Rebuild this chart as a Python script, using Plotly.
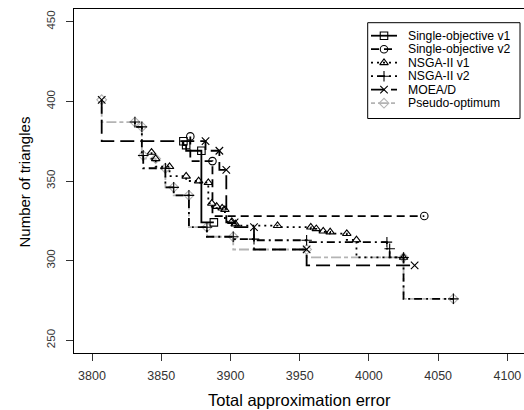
import plotly.graph_objects as go

# ---------------- data ----------------
so1_x = [3866, 3868, 3879, 3888]
so1_y = [375, 372.5, 369, 324]

so2_x = [3871, 3887, 4040]
so2_y = [378, 362.5, 328]

nsga1_x = [3843, 3846, 3856, 3868, 3877, 3884, 3886.5, 3890, 3894, 3896, 3901, 3903.5,
           3934, 3958, 3962, 3967, 3972, 3984, 3991, 4025]
nsga1_y = [368, 364, 359, 353, 350, 349, 336, 334, 333, 332, 324.5, 323,
           322, 321, 320, 318.5, 318, 317, 313, 302]

nsga2_x = [3831, 3836, 3837, 3853, 3859, 3870, 3883, 3902, 3917, 3955, 4013, 4015, 4025, 4061]
nsga2_y = [387, 384, 366, 358, 346, 341, 321, 315, 313.5, 312.8, 311.6, 307.5, 302, 276]

moead_x = [3807, 3882, 3892, 3897, 3903, 3917, 3955, 4033]
moead_y = [401, 375, 369, 357, 324, 321, 307, 297]

pseudo_x = [3807, 3831, 3836, 3837, 3846, 3853, 3859, 3870, 3883, 3902, 3955, 4025, 4061]
pseudo_y = [401, 387, 384, 366, 364, 358, 346, 341, 321, 315, 307, 302, 276]

series_names = ["Single-objective v1", "Single-objective v2", "NSGA-II v1",
                "NSGA-II v2", "MOEA/D", "Pseudo-optimum"]

x_ticks = [3800, 3850, 3900, 3950, 4000, 4050, 4100]
y_ticks = [250, 300, 350, 400, 450]

# ---------------- styles ----------------
FONT = "Liberation Sans, Arial, sans-serif"
GRAY = "#b4b4b4"
styles = [
    dict(color="black", dash="solid", symbol="square-open"),
    dict(color="black", dash="8px,5px", symbol="circle-open"),
    dict(color="black", dash="2px,4px", symbol="triangle-up-open"),
    dict(color="black", dash="2px,4px,8px,4px", symbol="cross-thin-open"),
    dict(color="black", dash="14px,6px", symbol="x-thin-open"),
    dict(color=GRAY, dash="4px,3px,10px,3px", symbol="diamond-open"),
]
data = [(so1_x, so1_y), (so2_x, so2_y), (nsga1_x, nsga1_y),
        (nsga2_x, nsga2_y), (moead_x, moead_y), (pseudo_x, pseudo_y)]

fig = go.Figure()
draw_order = [5, 0, 1, 2, 3, 4]
for i in draw_order:
    xs, ys = data[i]
    st = styles[i]
    fig.add_trace(go.Scatter(
        x=xs, y=ys, mode="lines+markers", name=series_names[i],
        line=dict(color=st["color"], dash=st["dash"], width=1.8, shape="vh"),
        marker=dict(symbol=st["symbol"], size=7.5, color=st["color"],
                    line=dict(color=st["color"], width=1.1)),
        showlegend=False,
    ))

# ---------------- manual legend (pixel-coordinate overlay axes) ----------------
leg_row_y = [35.7, 49.2, 62.7, 76.2, 89.7, 103.2]
for i, name in enumerate(series_names):
    st = styles[i]
    yy = leg_row_y[i]
    fig.add_trace(go.Scatter(
        x=[371, 397], y=[yy, yy], mode="lines", xaxis="x2", yaxis="y2",
        line=dict(color=st["color"], dash=st["dash"], width=1.8),
        showlegend=False, hoverinfo="skip"))
    fig.add_trace(go.Scatter(
        x=[384], y=[yy], mode="markers", xaxis="x2", yaxis="y2",
        marker=dict(symbol=st["symbol"], size=7.5, color=st["color"],
                    line=dict(color=st["color"], width=1.1)),
        showlegend=False, hoverinfo="skip"))
    fig.add_annotation(x=407, y=yy, xref="x2", yref="y2", text=name,
                       showarrow=False, xanchor="left", yanchor="middle", borderpad=0,
                       font=dict(family=FONT, size=12.2, color="black"))

fig.add_shape(type="rect", xref="x2", yref="y2", x0=367.7, x1=520, y0=22.7, y1=118.5,
              line=dict(color="black", width=1), fillcolor="rgba(0,0,0,0)", layer="below")

# ---------------- layout ----------------
fig.update_layout(
    width=524, height=410,
    margin=dict(l=74, r=0, t=9, b=57, autoexpand=False),
    paper_bgcolor="white", plot_bgcolor="white",
    font=dict(family=FONT, color="black"),
    hovermode=False,
    xaxis=dict(range=[3787, 4112], tickvals=x_ticks, ticks="outside", ticklen=7,
               tickcolor="#333", tickwidth=1, showgrid=False, zeroline=False,
               showline=True, linecolor="black", linewidth=1, mirror=True,
               automargin=False,
               tickfont=dict(family=FONT, size=12.5, color="#333"), ticklabelstandoff=4),
    yaxis=dict(range=[242, 458], tickvals=y_ticks, ticks="outside", ticklen=7,
               tickcolor="#333", tickwidth=1, showgrid=False, zeroline=False,
               showline=True, linecolor="black", linewidth=1, mirror=True,
               automargin=False, tickangle=-90,
               tickfont=dict(family=FONT, size=11.5, color="#333"), ticklabelstandoff=6),
    xaxis2=dict(range=[74, 524], overlaying="x", anchor="y2", visible=False,
                fixedrange=True, automargin=False),
    yaxis2=dict(range=[353, 9], overlaying="y", anchor="x2", visible=False,
                fixedrange=True, automargin=False),
)

# axis titles (paper coordinates; plot area spans px 74..524 x 9..353)
fig.add_annotation(x=0.5, y=-0.1366, xref="paper", yref="paper",
                   text="Total approximation error", showarrow=False,
                   font=dict(family=FONT, size=16.5, color="black"),
                   xanchor="center", yanchor="middle")
fig.add_annotation(x=-0.1089, y=0.4985, xref="paper", yref="paper",
                   text="Number of triangles", showarrow=False, textangle=-90,
                   font=dict(family=FONT, size=15, color="black"),
                   xanchor="center", yanchor="middle")

fig.write_html(
    "out.html",
    config={"displayModeBar": False, "staticPlot": True},
    post_script="document.documentElement.style.margin='0';"
                "document.body.style.margin='0';"
                "document.body.style.padding='0';"
                "document.body.style.overflow='hidden';",
)
